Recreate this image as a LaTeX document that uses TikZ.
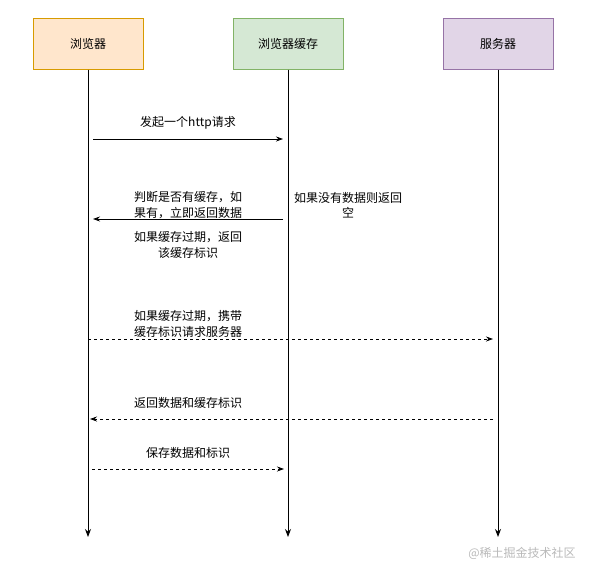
\documentclass[tikz,border=0pt]{standalone}
\usepackage{fontspec}
\newfontfamily\cjk{Noto Sans CJK SC}
\usetikzlibrary{arrows.meta, positioning}

\definecolor{browserfill}{HTML}{FFE6CC}
\definecolor{browserline}{HTML}{D79B00}
\definecolor{cachefill}{HTML}{D5E8D4}
\definecolor{cacheline}{HTML}{82B366}
\definecolor{serverfill}{HTML}{E1D5E7}
\definecolor{serverline}{HTML}{9673A6}

\tikzset{
    actor/.style={draw, line width=1pt, minimum width=110pt, minimum height=50pt, inner sep=0pt, font=\cjk\fontsize{12}{15}\selectfont},
    lifeline/.style={line width=1pt, -{Stealth[length=8pt,width=6pt]}},
    msg/.style={line width=0.8pt, -{Stealth[length=7pt,width=5pt]}},
    reply/.style={msg, dashed},
    note/.style={font=\cjk\fontsize{12}{15.5}\selectfont, align=center, inner sep=0pt},
}

\begin{document}
\begin{tikzpicture}[x=1pt, y=-1pt]
    \useasboundingbox (0,0) rectangle (593,578);

    % Participants
    \node[actor, fill=browserfill, draw=browserline] (browser) at (88,44) {浏览器};
    \node[actor, fill=cachefill, draw=cacheline] (cache) at (288,44) {浏览器缓存};
    \node[actor, fill=serverfill, draw=serverline] (server) at (498,44) {服务器};

    % Lifelines
    \coordinate (browserEnd) at (88,537);
    \coordinate (cacheEnd) at (288,537);
    \coordinate (serverEnd) at (498,537);
    \draw[lifeline] (browser) -- (browserEnd);
    \draw[lifeline] (cache) -- (cacheEnd);
    \draw[lifeline] (server) -- (serverEnd);

    % Message ends
    \coordinate (reqFrom) at (93,139);
    \coordinate (reqTo) at (283,139);
    \coordinate (hitFrom) at (283,219);
    \coordinate (hitTo) at (93,219);
    \coordinate (askFrom) at (88,339);
    \coordinate (askTo) at (493,339);
    \coordinate (backFrom) at (493,419);
    \coordinate (backTo) at (90,419);
    \coordinate (saveFrom) at (92,469);
    \coordinate (saveTo) at (284,469);

    % Messages
    \draw[msg] (reqFrom) -- (reqTo);
    \draw[msg] (hitFrom) -- (hitTo);
    \draw[reply] (askFrom) -- (askTo);
    \draw[reply] (backFrom) -- (backTo);
    \draw[reply] (saveFrom) -- (saveTo);

    % Labels
    \node[note] (reqLabel) at (188,123) {发起一个http请求};
    \node[note] (hitLabel) at (188,205) {判断是否有缓存，如\\果有，立即返回数据};
    \node[note] (staleLabel) at (188,245) {如果缓存过期，返回\\该缓存标识};
    \node[note] (emptyLabel) at (348,205) {如果没有数据则返回\\空};
    \node[note] (askLabel) at (188,324) {如果缓存过期，携带\\缓存标识请求服务器};
    \node[note] (backLabel) at (188,403) {返回数据和缓存标识};
    \node[note] (saveLabel) at (188,453) {保存数据和标识};

    % Watermark
    \node[note, text=gray!55] (mark) at (522,553) {@稀土掘金技术社区};
\end{tikzpicture}
\end{document}
